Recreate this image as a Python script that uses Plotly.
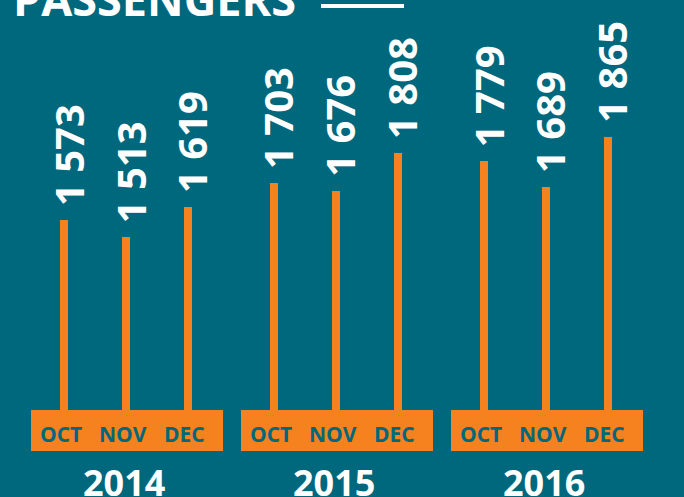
import plotly.graph_objects as go

# ---- data ----
years = ["2014", "2015", "2016"]
months = ["OCT", "NOV", "DEC"]
passengers = [1573, 1513, 1619, 1703, 1676, 1808, 1779, 1689, 1865]
value_labels = ["1 573", "1 513", "1 619", "1 703", "1 676", "1 808", "1 779", "1 689", "1 865"]
title_text = "PASSENGERS"

# ---- layout constants ----
W, H = 684, 497
BG = "#00687D"
ORANGE = "#F5821F"
FONT = "Open Sans"
GROUP_STEP = 3.387
PLOT_BOTTOM = 411  # pixel row of the plot-area bottom


def py(p):
    """pixel row -> paper y"""
    return (PLOT_BOTTOM - p) / PLOT_BOTTOM


def pxp(p):
    """pixel column -> paper x"""
    return p / W


xs = [g * GROUP_STEP + m for g in range(len(years)) for m in range(len(months))]

fig = go.Figure(
    go.Bar(
        x=xs,
        y=passengers,
        width=0.14,
        marker=dict(color=ORANGE, line_width=0),
        hoverinfo="skip",
    )
)

annotations = []
for x, v, lab in zip(xs, passengers, value_labels):
    annotations.append(dict(
        x=x, y=v, xref="x", yref="y", text=lab, showarrow=False,
        textangle=-90, yanchor="bottom", xanchor="center", yshift=12, xshift=4,
        font=dict(family=FONT, size=40, color="white", weight="bold"),
    ))

shapes = []
for g, yr in enumerate(years):
    base = g * GROUP_STEP
    shapes.append(dict(
        type="rect", xref="x", yref="paper",
        x0=base - 0.532, x1=base + 2.565, y0=py(451), y1=py(410),
        fillcolor=ORANGE, line_width=0, layer="above",
    ))
    for m, mon in enumerate(months):
        annotations.append(dict(
            x=base + m, y=py(434), xref="x", yref="paper", text=mon,
            showarrow=False, xanchor="center", yanchor="middle", xshift=-3,
            font=dict(family=FONT, size=21, color=BG, weight="bold"),
        ))
    annotations.append(dict(
        x=base + 1, y=py(482), xref="x", yref="paper", text=yr,
        showarrow=False, xanchor="center", yanchor="middle", xshift=-2,
        font=dict(family=FONT, size=36, color="white", weight="bold"),
    ))

annotations.append(dict(
    x=pxp(11), y=py(31), xref="paper", yref="paper", text=title_text,
    showarrow=False, xanchor="left", yanchor="bottom",
    font=dict(family=FONT, size=45, color="white", weight="bold"),
))
shapes.append(dict(
    type="line", xref="paper", yref="paper",
    x0=pxp(321), x1=pxp(404), y0=py(6), y1=py(6),
    line=dict(color="white", width=4),
))

fig.update_layout(
    width=W, height=H,
    margin=dict(l=0, r=0, t=0, b=H - PLOT_BOTTOM, pad=0),
    paper_bgcolor=BG, plot_bgcolor=BG,
    showlegend=False,
    xaxis=dict(visible=False, range=[-1.032, 10.0], fixedrange=True),
    yaxis=dict(visible=False, range=[904, 2344], fixedrange=True),
    annotations=annotations,
    shapes=shapes,
    bargap=0,
)

fig.write_html(
    "out.html",
    config={"displayModeBar": False},
    post_script="document.body.style.margin='0';document.body.style.overflow='hidden';",
)
